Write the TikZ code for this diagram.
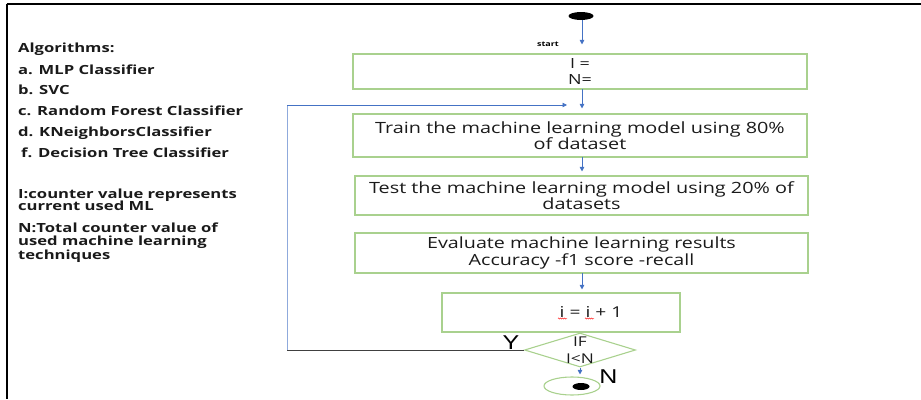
\documentclass[tikz,border=0pt]{standalone}
\usepackage{fontspec}
\setmainfont{Open Sans}
\newfontfamily\boxf[FakeStretch=1.28]{Open Sans}
\newfontfamily\leftf[FakeStretch=1.32]{Open Sans}
\newfontfamily\bigf[FakeStretch=1.25]{Liberation Sans}
\usetikzlibrary{arrows.meta,shapes.geometric,decorations.pathmorphing}
\definecolor{boxgreen}{HTML}{A9D18E}
\definecolor{arrowblue}{HTML}{4472C4}
\definecolor{loopblue}{HTML}{8FAADC}
\definecolor{txtgray}{HTML}{1A1A1A}
\begin{document}
\begin{tikzpicture}[x=1pt,y=-1pt,
  stepbox/.style={draw=boxgreen,line width=1.1pt,inner sep=0pt,align=center,text=txtgray},
  flow/.style={draw=arrowblue,line width=0.8pt,-{Triangle[length=4.5pt,width=4.5pt]}},
  lefttxt/.style={anchor=base west,inner sep=0pt,text=txtgray,font=\leftf\bfseries\fontsize{12.6}{13}\selectfont},
  boxfont/.style={font=\boxf\fontsize{#1}{16.5}\selectfont},
  spell/.style={red,line width=0.4pt,decorate,decoration={snake,amplitude=0.6pt,segment length=2pt}}
]
\useasboundingbox (0,0) rectangle (921,399);
% frame
\draw[line width=2pt] (6.7,4) -- (921,4);
\draw[line width=1.6pt] (6.7,4) -- (6.7,399);

% left texts
\node[lefttxt] (t1) at (18,52.5) {Algorithms:};
\node[lefttxt] (t2) at (18,74) {a. MLP Classifier};
\node[lefttxt] (t3) at (18,94) {b. SVC};
\node[lefttxt] (t4) at (18,115.5) {c. Random Forest Classifier};
\node[lefttxt] (t5) at (18,136.7) {d. KNeighborsClassifier};
\node[lefttxt] (t6) at (21,157.5) {f. Decision Tree Classifier};
\node[lefttxt] (t7) at (18,198) {I:counter value represents};
\node[lefttxt] (t8) at (18,210) {current used ML};
\node[lefttxt] (t9) at (18,232.5) {N:Total counter value of};
\node[lefttxt] (t10) at (18,245.5) {used machine learning};
\node[lefttxt] (t11) at (18,259) {techniques};

% start
\node[ellipse,fill=black,minimum width=25pt,minimum height=8pt,inner sep=0pt] (start) at (581,16) {};
\node[inner sep=0pt,font=\leftf\bfseries\fontsize{6.8}{7}\selectfont] (startlbl) at (548,44) {start};

% boxes
\node[stepbox,boxfont=14,minimum width=454pt,minimum height=35pt] (init) at (580,71.5) {I =\\N=};
\node[stepbox,boxfont=15.5,minimum width=454pt,minimum height=43pt] (train) at (580,135.5) {Train the machine learning model using 80\%\\of dataset};
\node[stepbox,boxfont=15.5,minimum width=453pt,minimum height=39pt] (test) at (581.5,195.5) {Test the machine learning model using 20\% of\\datasets};
\node[stepbox,boxfont=15.4,minimum width=453pt,minimum height=40pt] (eval) at (581.5,253) {Evaluate machine learning results\\Accuracy -f1 score -recall};
\node[stepbox,minimum width=238pt,minimum height=39pt] (inc) at (561,312.5) {};
\node[inner sep=0pt,text=txtgray,font=\boxf\fontsize{15}{16}\selectfont] (inctext) at (591,312) {i = i + 1};
\draw[spell] (558,318.5) -- (567,318.5);
\draw[spell] (585,318.5) -- (594,318.5);

% decision
\node[diamond,draw=boxgreen,line width=1.1pt,minimum width=111pt,minimum height=34pt,inner sep=0pt] (cond) at (580,350) {};
\node[inner sep=0pt,align=center,text=txtgray,font=\boxf\fontsize{13.5}{16.5}\selectfont] (condtext) at (580,350) {IF\\I<N};
\node[inner sep=0pt,font=\bigf\fontsize{20}{20}\selectfont] (ylbl) at (511,343) {Y};
\node[inner sep=0pt,font=\bigf\fontsize{20}{20}\selectfont] (nlbl) at (608.5,377) {N};

% end
\node[ellipse,draw=boxgreen,line width=1.1pt,minimum width=56pt,minimum height=18pt,inner sep=0pt] (stop) at (572,386) {};
\node[ellipse,fill=black,minimum width=17pt,minimum height=7pt,inner sep=0pt] (stopdot) at (581,386.5) {};

% connectors
\coordinate (loopdown) at (287,350);
\coordinate (loopup) at (287,105);
\coordinate (loopend) at (567,105);
\draw[flow,shorten >=9pt] (582,20) coordinate (s0) -- (s0 |- init.north);
\draw[flow,shorten >=5pt] (582,89) coordinate (s1) -- (s1 |- train.north);
\draw[flow,shorten >=4pt] (582,157) coordinate (s2) -- (s2 |- test.north);
\draw[flow,shorten >=3pt] (582,273) coordinate (s3) -- (s3 |- inc.north);
\draw[flow,shorten >=2pt] (cond.south) -- (stop.north -| cond.south);
\draw[line width=0.9pt,draw=black!75] (cond.west) -- (loopdown);
\draw[line width=0.9pt,draw=loopblue] (loopdown) -- (loopup);
\draw[flow] (loopup) -- (loopend);
\end{tikzpicture}
\end{document}
